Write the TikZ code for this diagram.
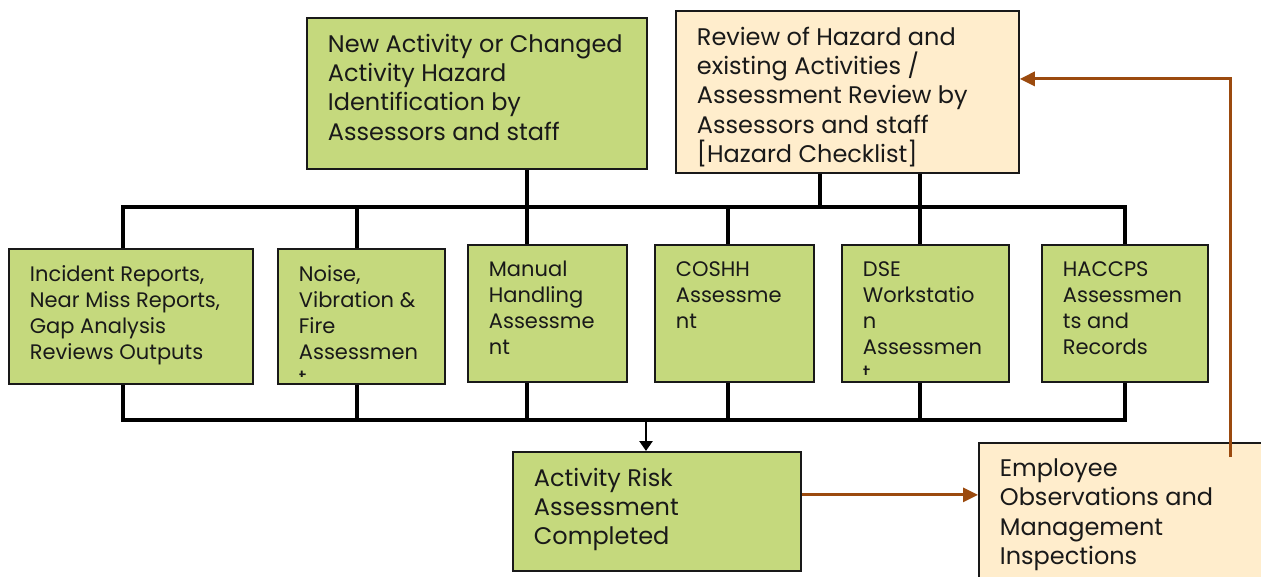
\documentclass[tikz,border=0pt]{standalone}
\usepackage{fontspec}
\setmainfont{Poppins}
\usetikzlibrary{arrows.meta}
\definecolor{boxgreen}{RGB}{197,217,125}
\definecolor{boxcream}{RGB}{255,237,204}
\definecolor{loopbrown}{RGB}{155,74,14}
\definecolor{ink}{RGB}{25,25,25}
\tikzset{
  card/.style={draw=ink, line width=1.8pt, anchor=north west, inner sep=0pt},
  gbox/.style={card, fill=boxgreen},
  cbox/.style={card, fill=boxcream},
  plain/.style={anchor=north west, inner sep=0pt, outer sep=0pt, minimum width=0pt, minimum height=0pt,
    draw=none, fill=none, align=left, text=ink},
  smalltxt/.style={plain, font=\fontsize{21pt}{26pt}\selectfont},
  bigtxt/.style={plain, font=\fontsize{24pt}{29.3pt}\selectfont},
  wire/.style={draw=black, line width=3.2pt},
  brownwire/.style={draw=loopbrown, line width=3pt, -{Triangle[length=15pt,width=14pt]}},
}
\newcommand{\stext}[1]{\node[smalltxt] at ([xshift=21pt,yshift=-16.5pt]path picture bounding box.north west) {#1};}
\newcommand{\ctext}[1]{\clip ([yshift=7pt]path picture bounding box.south west) rectangle (path picture bounding box.north east);
  \node[smalltxt] at ([xshift=21pt,yshift=-16.5pt]path picture bounding box.north west) {#1};}
\newcommand{\btext}[1]{\node[bigtxt] at ([xshift=21pt,yshift=-16pt]path picture bounding box.north west) {#1};}
\begin{document}
\begin{tikzpicture}[x=1pt,y=-1pt]
\clip (0,0) rectangle (1261,577);
\fill[white] (0,0) rectangle (1261,577);
% top boxes
\node[gbox, minimum width=340pt, minimum height=151pt, path picture={\btext{New Activity or Changed\\Activity Hazard\\Identification by\\Assessors and staff}}] (new) at (306,17) {};
\node[cbox, minimum width=343pt, minimum height=162pt, path picture={\btext{Review of Hazard and\\existing Activities /\\Assessment Review by\\Assessors and staff\\{[}Hazard Checklist{]}}}] (rev) at (675,10) {};
% middle boxes
\node[gbox, minimum width=244pt, minimum height=135pt, path picture={\stext{Incident Reports,\\Near Miss Reports,\\Gap Analysis\\Reviews Outputs}}] (inc) at (8,248) {};
\node[gbox, minimum width=167pt, minimum height=135pt, path picture={\ctext{Noise,\\Vibration \&\\Fire\\Assessmen\\t}}] (noi) at (277,248) {};
\node[gbox, minimum width=159pt, minimum height=137pt, path picture={\stext{Manual\\Handling\\Assessme\\nt}}] (man) at (467,244) {};
\node[gbox, minimum width=159pt, minimum height=137pt, path picture={\stext{COSHH\\Assessme\\nt}}] (cos) at (654,244) {};
\node[gbox, minimum width=167pt, minimum height=137pt, path picture={\ctext{DSE\\Workstatio\\n\\Assessmen\\t}}] (dse) at (841,244) {};
\node[gbox, minimum width=166pt, minimum height=137pt, path picture={\stext{HACCPS\\Assessmen\\ts and\\Records}}] (hac) at (1041,244) {};
% bottom boxes
\node[gbox, minimum width=288pt, minimum height=119pt, path picture={\btext{Activity Risk\\Assessment\\Completed}}] (act) at (512,451) {};
\node[cbox, minimum width=320pt, minimum height=160pt, path picture={\btext{Employee\\Observations and\\Management\\Inspections}}] (emp) at (978,442) {};
% bus coordinates
\coordinate (t1) at (123,207);
\coordinate (t2) at (357,207);
\coordinate (t3) at (527,207);
\coordinate (t4) at (728,207);
\coordinate (t5) at (820,207);
\coordinate (t6) at (920,207);
\coordinate (t7) at (1125,207);
\coordinate (b1) at (123,420);
\coordinate (b2) at (357,420);
\coordinate (b3) at (527,420);
\coordinate (b4) at (728,420);
\coordinate (b5) at (920,420);
\coordinate (b6) at (1125,420);
\coordinate (bA) at (646,420);
% top bus
\draw[wire] (t1 |- inc.north) -- (t1) -- (t7) -- (t7 |- hac.north);
\draw[wire] (t3 |- new.south) -- (t3 |- man.north);
\draw[wire] (t5 |- rev.south) -- (t5);
\draw[wire] (t6 |- rev.south) -- (t6 |- dse.north);
\draw[wire] (t2) -- (t2 |- noi.north);
\draw[wire] (t4) -- (t4 |- cos.north);
% bottom bus
\draw[wire] (b1 |- inc.south) -- (b1) -- (b6) -- (b6 |- hac.south);
\draw[wire] (b2 |- noi.south) -- (b2);
\draw[wire] (b3 |- man.south) -- (b3);
\draw[wire] (b4 |- cos.south) -- (b4);
\draw[wire] (b5 |- dse.south) -- (b5);
\draw[draw=black, line width=2.6pt, -{Triangle[length=10pt,width=13pt]}] (bA) -- (bA |- act.north);
% brown connectors
\coordinate (ae) at ([yshift=16.5pt]act.east);
\draw[brownwire] (ae) -- (ae -| emp.west);
\coordinate (lp) at (1230,457);
\coordinate (re) at ([yshift=13pt]rev.east);
\draw[brownwire] (lp) |- (re);
\end{tikzpicture}
\end{document}
